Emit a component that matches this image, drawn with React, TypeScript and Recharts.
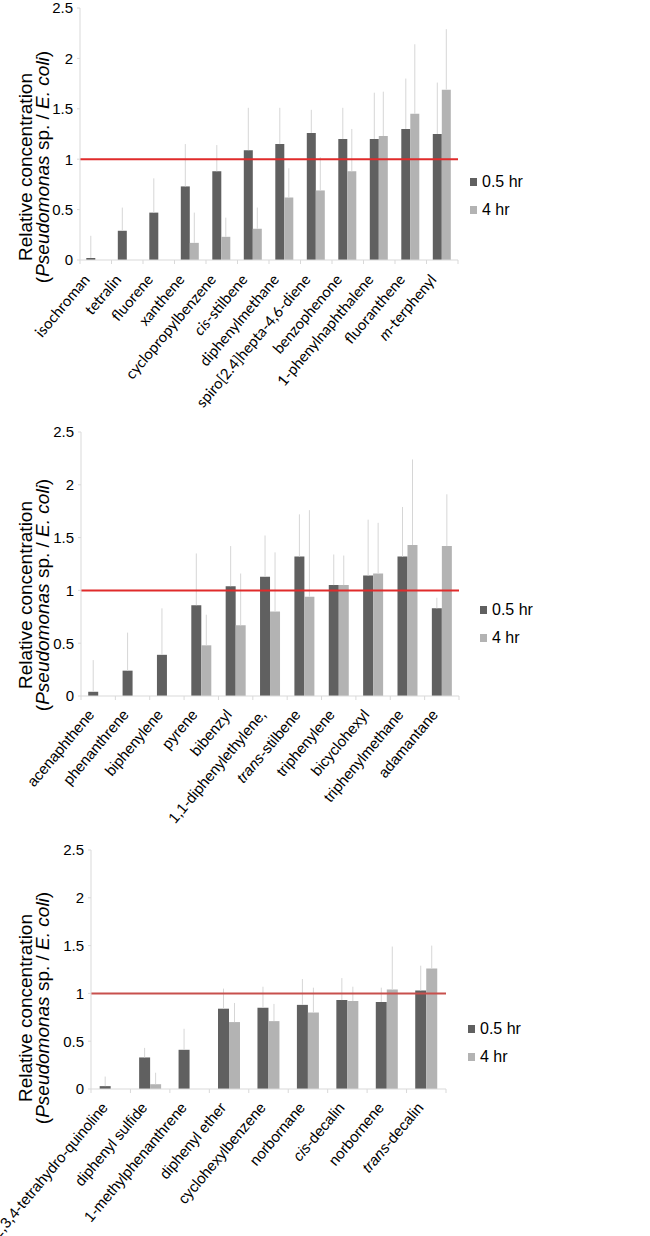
import { BarChart, Bar, XAxis, YAxis, ErrorBar, ReferenceLine, Legend } from "recharts";

const DARK = "#606060";
const LIGHT = "#b3b3b3";
const ERR = "#d6d6d6";
const AXIS = "#d9d9d9";
const W = 650;
const ANGLE = -50;

const yTicks = [0, 0.5, 1, 1.5, 2, 2.5];

// panel 1
const cats1 = ["isochroman", "tetralin", "fluorene", "xanthene", "cyclopropylbenzene", "cis-stilbene", "diphenylmethane", "spiro[2.4]hepta-4,6-diene", "benzophenone", "1-phenylnaphthalene", "fluoranthene", "m-terphenyl"];
const half1 = [0.02, 0.29, 0.47, 0.73, 0.88, 1.09, 1.15, 1.26, 1.2, 1.2, 1.3, 1.25];
const half1Top = [0.24, 0.52, 0.81, 1.15, 1.14, 1.51, 1.51, 1.49, 1.51, 1.66, 1.8, 1.76];
const four1 = [0, 0, 0, 0.17, 0.23, 0.31, 0.62, 0.69, 0.88, 1.23, 1.45, 1.69];
const four1Top = [0.18, 0.17, 0.15, 0.47, 0.42, 0.52, 0.91, 1.02, 1.3, 1.67, 2.14, 2.29];

// panel 2
const cats2 = ["acenaphthene", "phenanthrene", "biphenylene", "pyrene", "bibenzyl", "1,1-diphenylethylene,", "trans-stilbene", "triphenylene", "bicyclohexyl", "triphenylmethane", "adamantane"];
const half2 = [0.04, 0.24, 0.39, 0.86, 1.04, 1.13, 1.32, 1.05, 1.14, 1.32, 0.83];
const half2Top = [0.34, 0.6, 0.83, 1.35, 1.42, 1.52, 1.72, 1.34, 1.67, 1.79, 0.93];
const four2 = [0, 0, 0, 0.48, 0.67, 0.8, 0.94, 1.05, 1.16, 1.43, 1.42];
const four2Top = [0.26, 0.34, 0.29, 0.77, 1.16, 1.36, 1.76, 1.33, 1.64, 2.24, 1.91];

// panel 3
const cats3 = ["1,2,3,4-tetrahydro-quinoline", "diphenyl sulfide", "1-methylphenanthrene", "diphenyl ether", "cyclohexylbenzene", "norbornane", "cis-decalin", "norbornene", "trans-decalin"];
const half3 = [0.03, 0.33, 0.41, 0.84, 0.85, 0.88, 0.93, 0.91, 1.03];
const half3Top = [0.13, 0.43, 0.63, 1.05, 1.07, 1.15, 1.16, 1.06, 1.29];
const four3 = [0, 0.05, 0, 0.7, 0.71, 0.8, 0.92, 1.04, 1.26];
const four3Top = [0.11, 0.17, 0.05, 0.9, 0.89, 1.06, 1.07, 1.49, 1.5];

const italicPrefixes = ["cis-", "trans-", "m-"];

function buildRows(cats: string[], h: number[], hTop: number[], f: number[], fTop: number[]) {
  return cats.map((name, i) => ({
    name,
    h: h[i],
    f: f[i],
    hErr: [0, Math.max(0, hTop[i] - h[i])],
    fErr: [0, Math.max(0, fTop[i] - f[i])],
  }));
}

function LabelText({ text }: { text: string }) {
  const pre = italicPrefixes.find((p) => text.startsWith(p));
  if (!pre) return <>{text}</>;
  return (
    <>
      <tspan fontStyle="italic">{pre.slice(0, -1)}</tspan>
      <tspan>{text.slice(pre.length - 1)}</tspan>
    </>
  );
}

function makeTick(bw: number, n: number, font: string, size: number, dx: number, dy: number) {
  return (props: any) => {
    const { x, y, payload, index } = props;
    const tx = x + dx;
    const ty = y + dy;
    return (
      <g>
        <line x1={x - bw / 2} x2={x - bw / 2} y1={y} y2={y + 4} stroke={AXIS} />
        {index === n - 1 && <line x1={x + bw / 2} x2={x + bw / 2} y1={y} y2={y + 4} stroke={AXIS} />}
        <text x={tx} y={ty} transform={`rotate(${ANGLE}, ${tx}, ${ty})`} textAnchor="end" fontFamily={font} fontSize={size} fill="#000">
          <LabelText text={String(payload.value)} />
        </text>
      </g>
    );
  };
}

function YTitle({ cy }: { cy: number }) {
  const x1 = 32;
  const x2 = 49;
  return (
    <g fontFamily="'Liberation Sans', Arial, sans-serif" fontSize={19} fill="#000">
      <text x={x1} y={cy} transform={`rotate(-90, ${x1}, ${cy})`} textAnchor="middle">Relative concentration</text>
      <text x={x2} y={cy} transform={`rotate(-90, ${x2}, ${cy})`} textAnchor="middle">
        (<tspan fontStyle="italic">Pseudomonas</tspan> sp. / <tspan fontStyle="italic">E. coli</tspan>)
      </text>
    </g>
  );
}

const renderLegend = (props: any) => (
  <div style={{ fontFamily: "'Liberation Sans', Arial, sans-serif", fontSize: 16, color: "#000" }}>
    {(props.payload || []).map((p: any) => (
      <div key={p.value} style={{ display: "flex", alignItems: "center", height: 28, whiteSpace: "nowrap" }}>
        <span style={{ display: "inline-block", width: 7, height: 8, background: p.color, marginRight: 5 }} />
        {p.value}
      </div>
    ))}
  </div>
);

type PanelProps = {
  top: number;
  height: number;
  marginTop: number;
  plotBottom: number;
  axisX: number;
  plotRight: number;
  rows: any[];
  gapPct: string;
  labelFont: string;
  labelSize: number;
  labelDx: number;
  labelDy: number;
  titleCy: number;
  legendLeft: number;
  legendTop: number;
  red: string;
};

function Panel(p: PanelProps) {
  const n = p.rows.length;
  const bw = (p.plotRight - p.axisX) / n;
  return (
    <div style={{ position: "absolute", left: 0, top: p.top }}>
      <BarChart
        width={W}
        height={p.height}
        data={p.rows}
        margin={{ top: p.marginTop, right: W - p.plotRight, left: 0, bottom: 0 }}
        barCategoryGap={p.gapPct}
        barGap={0}
      >
        <XAxis
          dataKey="name"
          interval={0}
          height={p.height - p.plotBottom}
          tickSize={0}
          tickMargin={0}
          tickLine={false}
          axisLine={{ stroke: AXIS }}
          tick={makeTick(bw, n, p.labelFont, p.labelSize, p.labelDx, p.labelDy)}
        />
        <YAxis
          width={p.axisX}
          domain={[0, 2.5]}
          ticks={yTicks}
          interval={0}
          tickSize={3}
          tickMargin={4}
          axisLine={{ stroke: AXIS }}
          tickLine={{ stroke: AXIS }}
          tick={{ fill: "#000", fontSize: 15, fontFamily: "'Liberation Sans', Arial, sans-serif" }}
          label={{ content: () => <YTitle cy={p.titleCy} /> }}
        />
        <Bar dataKey="h" name="0.5 hr" fill={DARK} isAnimationActive={false}>
          <ErrorBar dataKey="hErr" direction="y" width={0} stroke={ERR} strokeWidth={1} isAnimationActive={false} />
        </Bar>
        <Bar dataKey="f" name="4 hr" fill={LIGHT} isAnimationActive={false}>
          <ErrorBar dataKey="fErr" direction="y" width={0} stroke={ERR} strokeWidth={1} isAnimationActive={false} />
        </Bar>
        <ReferenceLine y={1} stroke={p.red} strokeWidth={2} ifOverflow="visible" />
        <Legend
          layout="vertical"
          align="center"
          verticalAlign="middle"
          content={renderLegend}
          wrapperStyle={{ left: p.legendLeft, top: p.legendTop, width: 80 }}
        />
      </BarChart>
    </div>
  );
}

export default function App() {
  const rows1 = buildRows(cats1, half1, half1Top, four1, four1Top);
  const rows2 = buildRows(cats2, half2, half2Top, four2, four2Top);
  const rows3 = buildRows(cats3, half3, half3Top, four3, four3Top);
  const calibriLike = "Lato, 'Open Sans', sans-serif";
  const arial = "'Liberation Sans', Arial, sans-serif";
  return (
    <div style={{ position: "absolute", left: 0, top: 0, width: W, height: 1236, background: "#fff", overflow: "hidden" }}>
      <Panel top={0} height={410} marginTop={8} plotBottom={260} axisX={80} plotRight={458} rows={rows1} gapPct="20%"
        labelFont={calibriLike} labelSize={15} labelDx={-5} labelDy={20} titleCy={167}
        legendLeft={470} legendTop={168} red="#e02b2b" />
      <Panel top={420} height={412} marginTop={12} plotBottom={276} axisX={81} plotRight={459} rows={rows2} gapPct="21%"
        labelFont={arial} labelSize={15} labelDx={-3} labelDy={19} titleCy={175}
        legendLeft={480} legendTop={176} red="#e02b2b" />
      <Panel top={830} height={406} marginTop={20} plotBottom={259} axisX={91} plotRight={446} rows={rows3} gapPct="22%"
        labelFont={arial} labelSize={15} labelDx={-2} labelDy={19} titleCy={178}
        legendLeft={468} legendTop={185} red="#c8504d" />
    </div>
  );
}
